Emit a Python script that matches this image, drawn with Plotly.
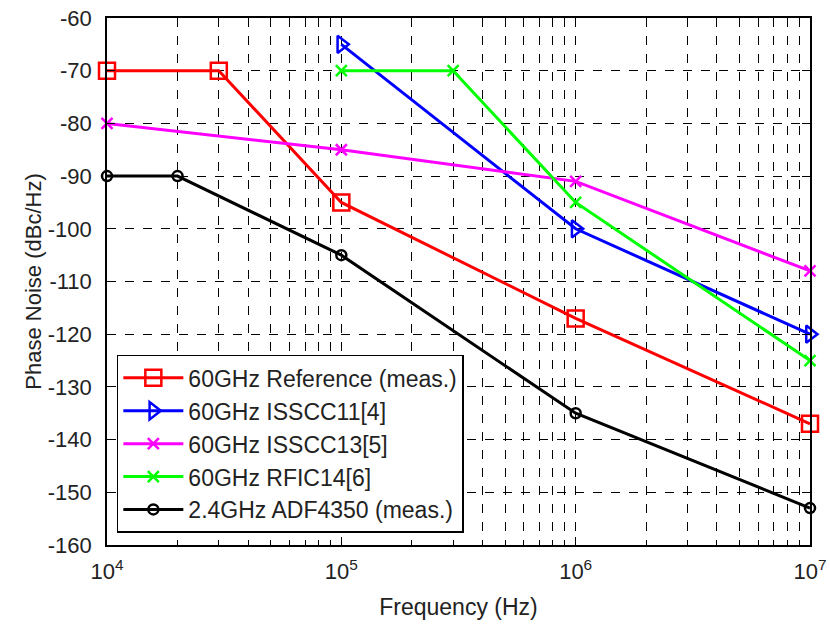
import plotly.graph_objects as go

# Data
ref_f = [1e4, 3e4, 1e5, 1e6, 1e7]
ref_pn = [-70, -70, -95, -117, -137]
isscc11_f = [1e5, 1e6, 1e7]
isscc11_pn = [-65, -100, -120]
isscc13_f = [1e4, 1e5, 1e6, 1e7]
isscc13_pn = [-80, -85, -91, -108]
rfic14_f = [1e5, 3e5, 1e6, 1e7]
rfic14_pn = [-70, -70, -95, -125]
adf_f = [1e4, 2e4, 1e5, 1e6, 1e7]
adf_pn = [-90, -90, -105, -135, -153]

names = ["60GHz Reference (meas.)", "60GHz ISSCC11[4]", "60GHz ISSCC13[5]",
         "60GHz RFIC14[6]", "2.4GHz ADF4350 (meas.)"]

y_ticks = [-60, -70, -80, -90, -100, -110, -120, -130, -140, -150, -160]
y_ticktext = ["-60", "-70", "-80", "-90", "-100", "-110", "-120", "-130", "-140", "-150", "-160"]
x_ticks = [1e4, 1e5, 1e6, 1e7]
x_ticktext = ["10<sup>4</sup>", "10<sup>5</sup>", "10<sup>6</sup>", "10<sup>7</sup>"]

FONT = "Liberation Sans, Arial, Helvetica"

fig = go.Figure()
specs = [
    (ref_f, ref_pn, names[0], "#ff0000", "square-open", 16),
    (isscc11_f, isscc11_pn, names[1], "#0000ff", "triangle-right-open", 15),
    (isscc13_f, isscc13_pn, names[2], "#ff00ff", "x-thin-open", 11),
    (rfic14_f, rfic14_pn, names[3], "#00ff00", "x-thin-open", 11),
    (adf_f, adf_pn, names[4], "#000000", "circle-open", 10),
]
for f, pn, nm, col, sym, sz in specs:
    fig.add_trace(go.Scatter(
        x=f, y=pn, name=nm, mode="lines+markers",
        line=dict(color=col, width=3),
        marker=dict(symbol=sym, size=sz, color=col, line=dict(color=col, width=2.5)),
        cliponaxis=False,
    ))

axis_common = dict(
    showline=True, linecolor="black", linewidth=1.5, mirror="allticks",
    ticks="inside", tickcolor="black", ticklen=8,
    tickfont=dict(family=FONT, size=22, color="#222"),
    gridcolor="black", griddash="dash", gridwidth=1, zeroline=False,
    automargin=False, ticklabeloverflow="allow",
)

fig.update_xaxes(
    type="log", range=[4, 7], tickvals=x_ticks, ticktext=x_ticktext,
    ticklabelstandoff=6,
    title=dict(text="Frequency (Hz)", font=dict(family=FONT, size=23, color="#222"), standoff=16),
    minor=dict(dtick="D1", showgrid=True, gridcolor="black", griddash="dash", gridwidth=1,
               ticks="inside", ticklen=4, tickcolor="black"),
    **axis_common,
)
fig.update_yaxes(
    range=[-160, -60], tickvals=y_ticks, ticktext=y_ticktext,
    ticklabelstandoff=9,
    title=dict(text="Phase Noise (dBc/Hz)", font=dict(family=FONT, size=22, color="#222"), standoff=0),
    **axis_common,
)

fig.update_layout(
    width=830, height=626,
    margin=dict(l=107, r=20, t=18, b=81),
    plot_bgcolor="white", paper_bgcolor="white",
    legend=dict(x=0.014, y=0.023, xanchor="left", yanchor="bottom",
                bgcolor="white", bordercolor="black", borderwidth=1.5,
                font=dict(family=FONT, size=23, color="#222"),
                itemwidth=60, tracegroupgap=0),
    showlegend=True,
)

fig.write_html("out.html", config={"displayModeBar": False},
               post_script="document.body.style.margin='0px'; document.body.style.overflow='hidden';")
